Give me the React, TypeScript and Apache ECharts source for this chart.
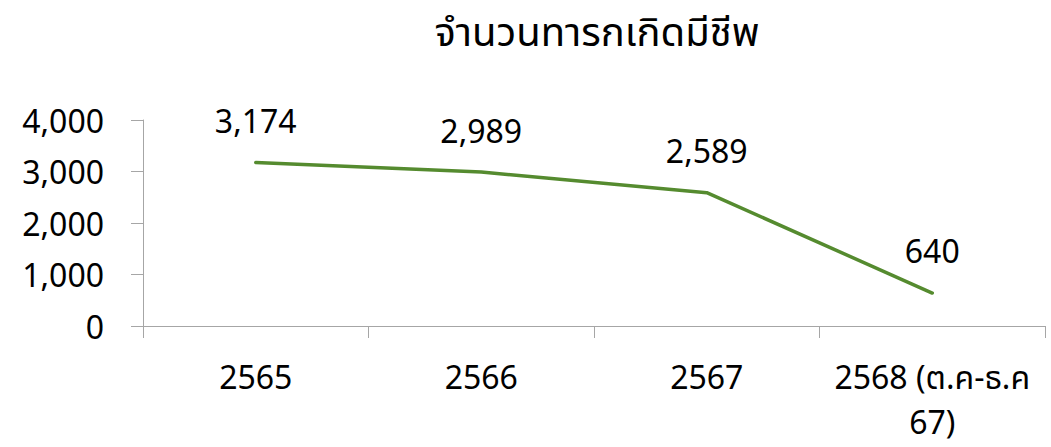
import React, { useEffect, useRef } from "react";
import * as echarts from "echarts";

const title = "จำนวนทารกเกิดมีชีพ";
const categories = ["2565", "2566", "2567", "2568 (ต.ค-ธ.ค 67)"];
const births = [3174, 2989, 2589, 640];
const yTicks = { min: 0, max: 4000, interval: 1000 };

const FONT = "'Noto Sans', 'Noto Sans Thai', 'Open Sans', sans-serif";

export default function App() {
  const ref = useRef<HTMLDivElement>(null);
  useEffect(() => {
    document.body.style.margin = "0";
    const chart = echarts.init(ref.current!, null, { renderer: "svg" });
    chart.setOption({
      animation: false,
      backgroundColor: "#ffffff",
      title: {
        text: title,
        left: 592,
        textAlign: "center",
        top: 2,
        padding: [4, 5, 5, 5],
        textStyle: { fontFamily: FONT, fontSize: 40, lineHeight: 48, fontWeight: "normal", color: "#000000" },
      },
      grid: { left: 143, right: 6, top: 120, bottom: 121 },
      xAxis: {
        type: "category",
        data: categories,
        boundaryGap: true,
        axisLine: { lineStyle: { color: "#a6a6a6", width: 1 } },
        axisTick: { show: true, length: 12, lineStyle: { color: "#a6a6a6" } },
        axisLabel: {
          fontFamily: FONT,
          fontSize: 32,
          color: "#000000",
          margin: 28,
          lineHeight: 45,
          interval: 0,
          formatter: (v: string) => v.replace(" 67)", "\n67)"),
        },
        splitLine: { show: false },
      },
      yAxis: {
        type: "value",
        min: yTicks.min,
        max: yTicks.max,
        interval: yTicks.interval,
        axisLine: { show: true, lineStyle: { color: "#a6a6a6", width: 1 } },
        axisTick: { show: true, length: 12, lineStyle: { color: "#a6a6a6" } },
        axisLabel: {
          fontFamily: FONT,
          fontSize: 32,
          color: "#000000",
          margin: 39,
          formatter: (v: number) => v.toLocaleString("en-US"),
        },
        splitLine: { show: false },
      },
      series: [
        {
          type: "line",
          data: births,
          showSymbol: true,
          symbol: "circle",
          symbolSize: 0.1,
          lineStyle: { color: "#558b2f", width: 3.5, cap: "round" },
          itemStyle: { color: "#558b2f" },
          label: {
            show: true,
            position: "top",
            distance: 26,
            fontFamily: FONT,
            fontSize: 32,
            color: "#000000",
            formatter: (p: any) => Number(p.value).toLocaleString("en-US"),
          },
        },
      ],
    });
    return () => chart.dispose();
  }, []);
  return <div ref={ref} style={{ width: 1051, height: 447 }} />;
}
